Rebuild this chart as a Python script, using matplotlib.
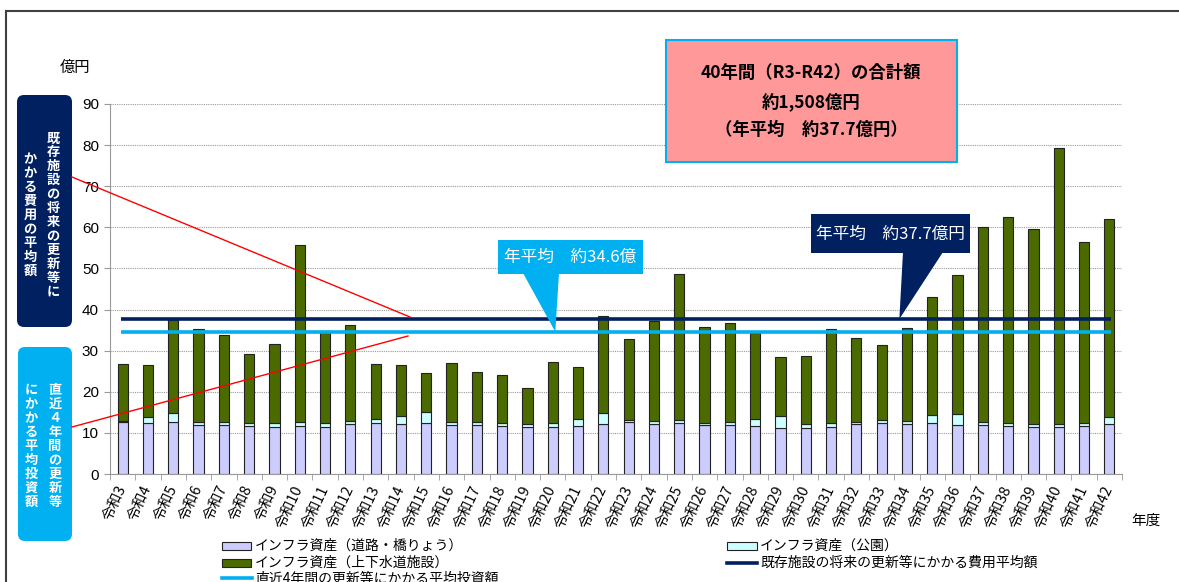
import numpy as np
import matplotlib.pyplot as plt
from matplotlib.patches import FancyBboxPatch, Rectangle, Polygon
from matplotlib.lines import Line2D

plt.rcParams['font.family'] = ['Noto Sans CJK JP', 'DejaVu Sans']

# fiscal years R3..R42
years = ['令和%d' % n for n in range(3, 43)]

# 億円
road = [12.7, 12.4, 12.6, 11.8, 11.8, 11.7, 11.4, 11.6, 11.5, 12.1,
        12.5, 12.1, 12.4, 11.8, 11.8, 11.7, 11.4, 11.5, 11.7, 12.2,
        12.6, 12.2, 12.4, 11.8, 12.0, 11.6, 11.3, 11.3, 11.5, 12.1,
        12.5, 12.2, 12.3, 11.8, 11.9, 11.6, 11.4, 11.4, 11.6, 12.1]
park = [0.3, 1.4, 2.3, 0.8, 0.8, 0.8, 1.0, 1.0, 0.9, 0.7,
        0.9, 2.0, 2.8, 0.8, 0.8, 0.7, 0.7, 0.8, 1.8, 2.7,
        0.5, 0.7, 0.7, 0.7, 0.7, 1.9, 2.9, 0.8, 0.8, 0.6,
        0.6, 0.8, 2.0, 2.9, 0.7, 0.7, 0.7, 0.7, 0.8, 1.8]
water = [13.8, 12.8, 22.6, 22.6, 21.1, 16.7, 19.3, 43.1, 22.1, 23.4,
         13.4, 12.5, 9.4, 14.5, 12.1, 11.8, 8.7, 14.9, 12.6, 23.6,
         19.7, 24.3, 35.5, 23.2, 24.1, 20.9, 14.3, 16.7, 22.9, 20.3,
         18.3, 22.6, 28.7, 33.7, 47.6, 50.3, 47.4, 67.3, 44.0, 48.1]

avg_future = 37.7   # 既存施設の将来の更新等にかかる費用平均額
avg_recent = 34.6   # 直近4年間の更新等にかかる平均投資額

W, H = 1179, 582
fig = plt.figure(figsize=(W / 100, H / 100), dpi=100)
ax = fig.add_axes([110 / W, 1 - 474 / H, (1122 - 110) / W, (474 - 104) / H])

x = np.arange(len(years))
road = np.array(road)
park = np.array(park)
water = np.array(water)
ec = '#222222'
ax.bar(x, road, 0.4, color='#CCCCFF', edgecolor=ec, lw=0.8, zorder=2)
ax.bar(x, park, 0.4, bottom=road, color='#CCFFFF', edgecolor=ec, lw=0.8, zorder=2)
ax.bar(x, water, 0.4, bottom=road + park, color='#4B6A00', edgecolor=ec, lw=0.8, zorder=2)
ax.hlines(avg_future, -0.05, 39.05, color='#002060', lw=2.6, zorder=4)
ax.hlines(avg_recent, -0.05, 39.05, color='#00B0F0', lw=2.6, zorder=4)

ax.set_xlim(-0.5, 39.5)
ax.set_ylim(0, 90)
ax.set_yticks(range(0, 91, 10))
ax.yaxis.grid(True, ls=(0, (1, 1)), color='#9a9a9a', lw=0.8)
ax.set_axisbelow(True)
for s in ['top', 'right']:
    ax.spines[s].set_visible(False)
for s in ['left', 'bottom']:
    ax.spines[s].set_color('#999999')
ax.set_xticks(x)
ax.set_xticklabels(years, rotation=65, ha='right', va='center',
                   rotation_mode='anchor', fontsize=10.5)
ax.tick_params(axis='x', length=0, pad=9)
ax.set_xticks(np.arange(-0.5, 40, 1), minor=True)
ax.tick_params(axis='x', which='minor', length=4, color='#999999')
ax.tick_params(axis='y', length=4, color='#999999', labelsize=11, pad=4)
for t in ax.get_yticklabels():
    t.set_family('Liberation Sans')

# overlay in pixel coordinates for boxes and notes
ov = fig.add_axes([0, 0, 1, 1], zorder=5)
ov.set_xlim(0, W)
ov.set_ylim(H, 0)
ov.axis('off')


def to_px(xd, yd):
    xp, yp = ax.transData.transform((xd, yd))
    return xp, H - yp


# outer frame
ov.add_line(Line2D([6, 6], [11, H], color='#404040', lw=1.5))
ov.add_line(Line2D([6, W], [11, 11], color='#404040', lw=1.5))

ov.text(75, 67, '億円', ha='center', va='center', fontsize=11)
ov.text(1146, 521, '年度', ha='center', va='center', fontsize=10.5)

# summary box
ov.add_patch(Rectangle((666, 40), 291, 122, fc='#FF9999', ec='#00B0F0', lw=1.5))
for ty, s in zip([73, 102, 130], ['40年間（R3-R42）の合計額', '約1,508億円', '（年平均　約37.7億円）']):
    ov.text(811, ty, s, ha='center', va='center', fontsize=12.5, fontweight='bold')

# callouts
tx, ty = to_px(17.1, avg_recent)
ov.add_patch(Polygon([(523, 273), (559, 273), (tx, ty)], closed=True, fc='#00B0F0', ec='none'))
ov.add_patch(Rectangle((498, 240), 145, 34, fc='#00B0F0', ec='none'))
ov.text(570, 257, '年平均　約34.6億', color='white', ha='center', va='center', fontsize=12)

tx, ty = to_px(30.7, avg_future)
ov.add_patch(Polygon([(903, 252), (943, 252), (tx, ty)], closed=True, fc='#002060', ec='none'))
ov.add_patch(Rectangle((811, 214), 159, 39, fc='#002060', ec='none'))
ov.text(890, 234, '年平均　約37.7億円', color='white', ha='center', va='center', fontsize=12)

# left side labels
ov.add_patch(FancyBboxPatch((17, 95), 55, 232, boxstyle='round,pad=0,rounding_size=7',
                            fc='#002060', ec='none'))
ov.add_patch(FancyBboxPatch((18, 347), 54, 194, boxstyle='round,pad=0,rounding_size=7',
                            fc='#00B0F0', ec='none'))


def vtext(xc, yc, s, step=13.9):
    n = len(s)
    for k, ch in enumerate(s):
        ov.text(xc, yc + (k - (n - 1) / 2) * step, ch, color='white', ha='center',
                va='center', fontsize=9.5, fontweight='bold')


vtext(53, 215, '既存施設の将来の更新等に')
vtext(30, 215, 'かかる費用の平均額')
vtext(55, 446, '直近４年間の更新等', step=14.1)
vtext(31, 446, 'にかかる平均投資額', step=14.0)

ov.add_line(Line2D([72, 410], [177, 317], color='red', lw=1))
ov.add_line(Line2D([72, 408], [427, 336], color='red', lw=1))

# legend
ov.add_patch(Rectangle((222, 542), 29, 8, fc='#CCCCFF', ec=ec, lw=0.8))
ov.text(255, 546, 'インフラ資産（道路・橋りょう）', va='center', fontsize=10)
ov.add_patch(Rectangle((222, 559), 29, 8, fc='#4B6A00', ec=ec, lw=0.8))
ov.text(255, 563, 'インフラ資産（上下水道施設）', va='center', fontsize=10)
ov.add_line(Line2D([222, 252], [578, 578], color='#00B0F0', lw=2.6))
ov.text(255, 579, '直近4年間の更新等にかかる平均投資額', va='center', fontsize=10)
ov.add_patch(Rectangle((727, 542), 30, 8, fc='#CCFFFF', ec=ec, lw=0.8))
ov.text(760, 546, 'インフラ資産（公園）', va='center', fontsize=10)
ov.add_line(Line2D([727, 757], [563, 563], color='#002060', lw=2.6))
ov.text(760, 563, '既存施設の将来の更新等にかかる費用平均額', va='center', fontsize=10)

fig.savefig('out.png', dpi=100)
